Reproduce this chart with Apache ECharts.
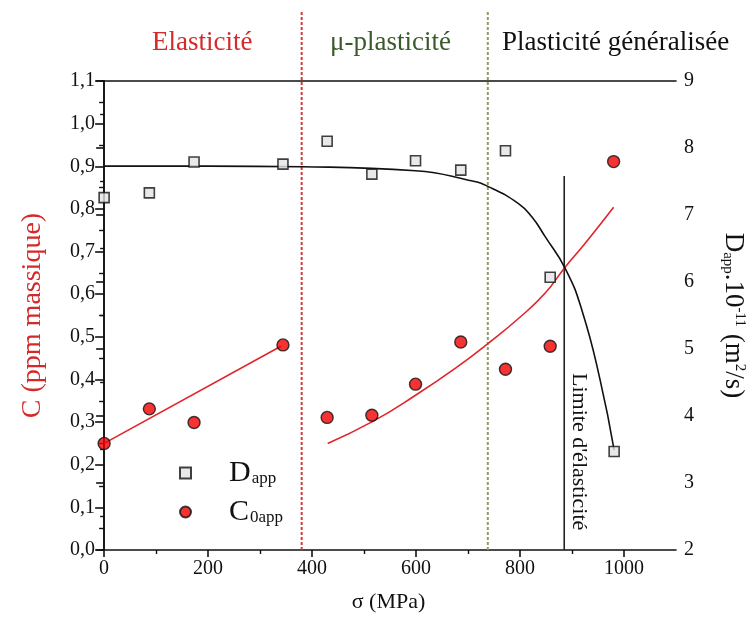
<!DOCTYPE html>
<html>
<head>
<meta charset="utf-8">
<script src="https://cdn.jsdelivr.net/npm/echarts@6/dist/echarts.min.js"></script>
<style>html,body{margin:0;padding:0;background:#fff}#c{width:755px;height:625px}</style>
</head>
<body>
<div id="c"></div>
<script>
// ---- data ----
var xD = [0, 87, 173, 344, 429, 515, 599, 686, 772, 858, 981];
var dApp = [7.26, 7.33, 7.79, 7.76, 8.10, 7.61, 7.81, 7.67, 7.96, 6.07, 3.47];
var xC = [0, 87, 173, 344, 429, 515, 599, 686, 772, 858, 980];
var c0App = [0.250, 0.331, 0.299, 0.481, 0.311, 0.316, 0.389, 0.488, 0.424, 0.478, 0.911];
var fitC1X = [0, 340];
var fitC1 = [0.250, 0.478];
var fitC2X = [430, 516, 599, 682, 740, 797, 848, 887, 925, 980];
var fitC2 = [0.250, 0.301, 0.363, 0.432, 0.486, 0.543, 0.602, 0.664, 0.719, 0.804];
var fitDX = [0, 200, 382, 599, 701, 740, 797, 823, 848, 887, 919, 954, 981];
var fitD = [7.73, 7.73, 7.72, 7.66, 7.52, 7.42, 7.17, 6.97, 6.68, 6.20, 5.58, 4.54, 3.49];
var elasticLimitX = 885;
var elasticLimitTop = 0.877;
var regionBounds = [380, 738];
var xMajorTicks = [0, 200, 400, 600, 800, 1000];
var xMinorTicks = [100, 300, 500, 700, 900];
var regionLabels = ['Elasticité', 'μ-plasticité', 'Plasticité généralisée'];

function pairs(xs, ys) { return xs.map(function (x, i) { return [x, ys[i]]; }); }

var SERIF = "'Liberation Serif','Times New Roman',serif";
var chart = echarts.init(document.getElementById('c'), null, {renderer: 'canvas'});
var GL = 101, GR = 79, GB = 75;

var option = {
  backgroundColor: '#fff',
  animation: false,
  textStyle: {fontFamily: SERIF},
  grid: [
    {left: GL, right: GR, top: 81, bottom: GB, containLabel: false, outerBoundsMode: 'none'},
    {left: GL, right: GR, top: 11, bottom: GB, containLabel: false, outerBoundsMode: 'none'}
  ],
  legend: {
    left: 174, top: 443, orient: 'vertical', itemGap: -11,
    itemWidth: 11, itemHeight: 11,
    selectedMode: false,
    data: [{name: 'D', icon: 'rect'}, {name: 'C', icon: 'circle'}],
    formatter: function (n) { return n === 'D' ? '{g|}{m|D}{s|app}' : '{g|}{m|C}{s|0app}'; },
    textStyle: {
      fontFamily: SERIF, color: '#111',
      rich: {
        g: {width: 33},
        m: {fontSize: 30, lineHeight: 30, padding: [10, 0, 10, 0], fontFamily: SERIF, color: '#111', verticalAlign: 'middle'},
        s: {fontSize: 17, lineHeight: 17, padding: [0, 0, 1, 1], fontFamily: SERIF, color: '#111', verticalAlign: 'bottom'}
      }
    }
  },
  xAxis: [
    {
      type: 'value', gridIndex: 0, position: 'bottom', min: -6, max: 1100,
      name: 'σ (MPa)', nameLocation: 'middle', nameGap: 41,
      nameTextStyle: {fontFamily: SERIF, fontSize: 22, color: '#111'},
      axisLine: {lineStyle: {color: '#111', width: 1.6}},
      axisTick: {customValues: xMajorTicks, length: 7, lineStyle: {color: '#111', width: 1.6}},
      axisLabel: {customValues: xMajorTicks, fontFamily: SERIF, fontSize: 20, color: '#111', margin: 9,
        formatter: function (v) { return String(v); }},
      splitLine: {show: false}
    },
    {
      type: 'value', gridIndex: 0, position: 'bottom', min: -6, max: 1100,
      axisLine: {show: false},
      axisTick: {customValues: xMinorTicks, length: 4, lineStyle: {color: '#111', width: 1.4}},
      axisLabel: {show: false}, splitLine: {show: false}
    },
    {
      type: 'value', gridIndex: 0, position: 'top', min: -6, max: 1100,
      axisLine: {show: true, lineStyle: {color: '#111', width: 1.6}},
      axisTick: {show: false}, axisLabel: {show: false}, splitLine: {show: false}
    },
    {
      type: 'value', gridIndex: 1, min: -6, max: 1100, show: false
    }
  ],
  yAxis: [
    {
      type: 'value', gridIndex: 0, position: 'left', min: 0, max: 1.1, interval: 0.1,
      name: 'C (ppm massique)', nameLocation: 'middle', nameGap: 54, nameRotate: 90,
      nameTextStyle: {fontFamily: SERIF, fontSize: 28, color: '#d42a2a'},
      axisLine: {show: true, lineStyle: {color: '#111', width: 1.6}},
      axisTick: {show: true, length: 9, lineStyle: {color: '#111', width: 1.6}},
      minorTick: {show: true, splitNumber: 2, length: 5, lineStyle: {color: '#111', width: 1.4}},
      axisLabel: {fontFamily: SERIF, fontSize: 20, color: '#111', margin: 6,
        formatter: function (v) { return v.toFixed(1).replace('.', ','); }},
      splitLine: {show: false}, minorSplitLine: {show: false}
    },
    {
      type: 'value', gridIndex: 0, position: 'right', min: 2, max: 9, interval: 1,
      name: '{m|D}{s|app}{m|.10}{p|-11}{m| (m}{p|2}{m|/s)}', nameLocation: 'middle', nameGap: 44, nameRotate: -90,
      nameTextStyle: {
        fontFamily: SERIF, fontSize: 27, color: '#111',
        rich: {
          m: {fontSize: 27, lineHeight: 27, padding: [8, 0, 8, 0], fontFamily: SERIF, color: '#111', verticalAlign: 'middle'},
          s: {fontSize: 15, lineHeight: 15, fontFamily: SERIF, color: '#111', verticalAlign: 'bottom'},
          p: {fontSize: 15, lineHeight: 15, fontFamily: SERIF, color: '#111', verticalAlign: 'top'}
        }
      },
      axisLine: {show: true, lineStyle: {color: '#111', width: 1.6}},
      axisTick: {show: true, inside: true, length: 8, lineStyle: {color: '#111', width: 1.6}},
      minorTick: {show: true, splitNumber: 2, length: 4, lineStyle: {color: '#111', width: 1.4}},
      axisLabel: {fontFamily: SERIF, fontSize: 20, color: '#111', margin: 8},
      splitLine: {show: false}, minorSplitLine: {show: false}
    },
    {
      type: 'value', gridIndex: 1, min: 0, max: 1, show: false
    }
  ],
  series: [
    {
      name: 'regionElastic', type: 'line', xAxisIndex: 3, yAxisIndex: 2, silent: true,
      data: [[regionBounds[0], 0], [regionBounds[0], 1]], symbol: 'none',
      lineStyle: {color: '#d83a3a', width: 2, type: [3, 2]}
    },
    {
      name: 'regionMicro', type: 'line', xAxisIndex: 3, yAxisIndex: 2, silent: true,
      data: [[regionBounds[1], 0], [regionBounds[1], 1]], symbol: 'none',
      lineStyle: {color: '#8c9f5c', width: 2, type: [3, 2]}
    },
    {
      name: 'limit', type: 'line', xAxisIndex: 0, yAxisIndex: 0, silent: true,
      data: [[elasticLimitX, 0], [elasticLimitX, elasticLimitTop]], symbol: 'none',
      lineStyle: {color: '#222', width: 1.6}
    },
    {
      name: 'fitC1', type: 'line', xAxisIndex: 0, yAxisIndex: 0, silent: true,
      data: pairs(fitC1X, fitC1), symbol: 'none',
      lineStyle: {color: '#e0242a', width: 1.6}
    },
    {
      name: 'fitC2', type: 'line', xAxisIndex: 0, yAxisIndex: 0, silent: true,
      data: pairs(fitC2X, fitC2), symbol: 'none', smooth: 0.5,
      lineStyle: {color: '#e0242a', width: 1.6}
    },
    {
      name: 'fitD', type: 'line', xAxisIndex: 0, yAxisIndex: 1, silent: true,
      data: pairs(fitDX, fitD), symbol: 'none', smooth: 0.5,
      lineStyle: {color: '#111', width: 1.6}
    },
    {
      name: 'D', type: 'scatter', xAxisIndex: 0, yAxisIndex: 1,
      data: pairs(xD, dApp), symbol: 'rect', symbolSize: 10,
      itemStyle: {color: '#e4e4e4', borderColor: '#111', borderWidth: 1.6}, z: 5
    },
    {
      name: 'C', type: 'scatter', xAxisIndex: 0, yAxisIndex: 0,
      data: pairs(xC, c0App), symbol: 'circle', symbolSize: 12,
      itemStyle: {color: '#f20000', borderColor: '#111', borderWidth: 1.4}, z: 5
    }
  ],
  graphic: [
    {type: 'text', left: 152, top: 29, style: {text: regionLabels[0], font: '27px ' + SERIF, fill: '#d42a2a'}},
    {type: 'text', left: 330, top: 29, style: {text: regionLabels[1], font: '27px ' + SERIF, fill: '#3b5a2a'}},
    {type: 'text', left: 502, top: 29, style: {text: regionLabels[2], font: '27px ' + SERIF, fill: '#111'}},
    {type: 'text', x: 568, y: 373, rotation: -Math.PI / 2,
      style: {text: "Limite d'élasticité", font: '22px ' + SERIF, fill: '#111', textAlign: 'left', textVerticalAlign: 'bottom'}}
  ]
};
chart.setOption(option);
</script>
</body>
</html>
